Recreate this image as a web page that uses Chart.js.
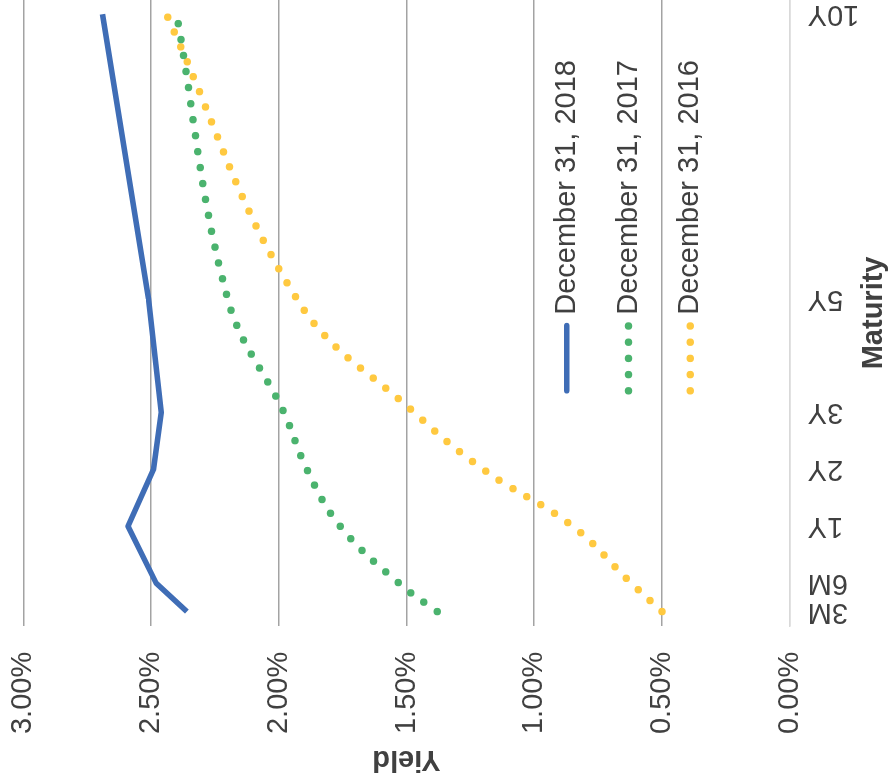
<!DOCTYPE html>
<html>
<head>
<meta charset="utf-8">
<title>Treasury yield curves</title>
<script src="https://cdn.jsdelivr.net/npm/chart.js@4.4.1/dist/chart.umd.min.js"></script>
<style>
  html, body { margin: 0; padding: 0; background: #fff; overflow: hidden; }
  #frame { position: relative; width: 891px; height: 784px; overflow: hidden; }
  /* the chart is drawn upright and then turned a quarter turn left, like the reference */
  #turn { position: absolute; left: 0; top: 0; width: 784px; height: 891px;
          transform-origin: 0 0; transform: translate(0, 784px) rotate(-90deg); }
  canvas { display: block; }
</style>
</head>
<body>
<div id="frame"><div id="turn"><canvas id="yieldChart" width="784" height="891"></canvas></div></div>
<script>
// maturities and where each one sits on the maturity axis (years; short end as plotted)
const tenorLabels = ['3M', '6M', '1Y', '2Y', '3Y', '5Y', '10Y'];
const tenorAxis = [-0.5, 0, 1, 2, 3, 5, 10];

// yields in percent
const yield2018 = [2.36, 2.48, 2.59, 2.49, 2.46, 2.51, 2.69];
const yield2017 = [1.38, 1.53, 1.76, 1.89, 1.98, 2.20, 2.40];
const yield2016 = [0.50, 0.62, 0.85, 1.20, 1.47, 1.93, 2.44];

const seriesNames = ['December 31, 2018', 'December 31, 2017', 'December 31, 2016'];

const FONT = "'Liberation Sans', Arial, sans-serif";
const TEXT = '#404040';

Chart.defaults.font.family = FONT;
Chart.defaults.color = TEXT;

function toPoints(values) {
    return values.map((v, i) => ({ x: tenorAxis[i], y: v }));
}

// legend sits inside the plot, lower right
const insideLegend = {
    id: 'insideLegend',
    afterDatasetsDraw(chart) {
        const ctx = chart.ctx;
        const area = chart.chartArea;
        const x0 = area.left + 235;
        let y = area.top + 543.5;
        chart.data.datasets.forEach(ds => {
            ctx.save();
            ctx.strokeStyle = ds.borderColor;
            ctx.lineWidth = ds.borderWidth;
            ctx.lineCap = 'round';
            ctx.setLineDash(ds.borderDash || []);
            ctx.beginPath();
            ctx.moveTo(x0, y);
            ctx.lineTo(x0 + 65.2, y);
            ctx.stroke();
            ctx.restore();

            ctx.save();
            ctx.fillStyle = TEXT;
            ctx.font = '29px ' + FONT;
            ctx.textBaseline = 'middle';
            ctx.textAlign = 'left';
            ctx.fillText(ds.label, x0 + 76, y);
            ctx.restore();
            y += 61.7;
        });
    }
};

const ctx = document.getElementById('yieldChart').getContext('2d');
const yieldChart = new Chart(ctx, {
    type: 'line',
    data: {
        datasets: [{
            label: seriesNames[0],
            data: toPoints(yield2018),
            borderColor: '#3F6DB6',
            borderWidth: 5.5,
            borderCapStyle: 'butt',
            borderJoinStyle: 'round',
            tension: 0,
            pointRadius: 0
        }, {
            label: seriesNames[1],
            data: toPoints(yield2017),
            borderColor: '#4BB36E',
            borderWidth: 7.5,
            borderDash: [0, 16.2],
            borderCapStyle: 'round',
            tension: 0.4,
            pointRadius: 0
        }, {
            label: seriesNames[2],
            data: toPoints(yield2016),
            borderColor: '#FFC940',
            borderWidth: 7.5,
            borderDash: [0, 16.2],
            borderCapStyle: 'round',
            tension: 0.4,
            pointRadius: 0
        }]
    },
    options: {
        responsive: false,
        animation: false,
        layout: { padding: { top: 23.3, right: 0, bottom: 0, left: 0 } },
        plugins: {
            legend: { display: false },
            tooltip: { enabled: false }
        },
        scales: {
            x: {
                type: 'linear',
                min: -0.75,
                max: 10.25,
                grid: { display: false, drawTicks: false },
                border: { display: true, color: '#D9D9D9', width: 1.5 },
                afterBuildTicks: (scale) => {
                    scale.ticks = tenorAxis.map(v => ({ value: v }));
                },
                afterFit: (scale) => {
                    scale.paddingLeft = 0;
                    scale.paddingRight = 0;
                    scale.height = 101.3;
                },
                ticks: {
                    autoSkip: false,
                    minRotation: 90,
                    maxRotation: 90,
                    padding: 18,
                    color: TEXT,
                    font: { size: 29 },
                    callback: (value, index) => tenorLabels[index]
                },
                title: {
                    display: true,
                    text: 'Maturity',
                    color: TEXT,
                    font: { size: 29, weight: 'bold' },
                    padding: { top: 0, bottom: 0 }
                }
            },
            y: {
                min: 0,
                max: 3,
                grid: {
                    drawTicks: false,
                    lineWidth: 1.5,
                    color: (c) => (c.tick && c.tick.value === 0) ? '#D9D9D9' : '#A3A3A3'
                },
                border: { display: false },
                afterFit: (scale) => {
                    scale.paddingTop = 0;
                    scale.paddingBottom = 0;
                    scale.width = 158.2;
                },
                ticks: {
                    stepSize: 0.5,
                    padding: 26,
                    color: TEXT,
                    font: { size: 29 },
                    callback: (value) => value.toFixed(2) + '%'
                },
                title: {
                    display: true,
                    text: 'Yield',
                    color: TEXT,
                    font: { size: 29, weight: 'bold' },
                    padding: { top: 8, bottom: 0 }
                }
            }
        }
    },
    plugins: [insideLegend]
});
</script>
</body>
</html>
